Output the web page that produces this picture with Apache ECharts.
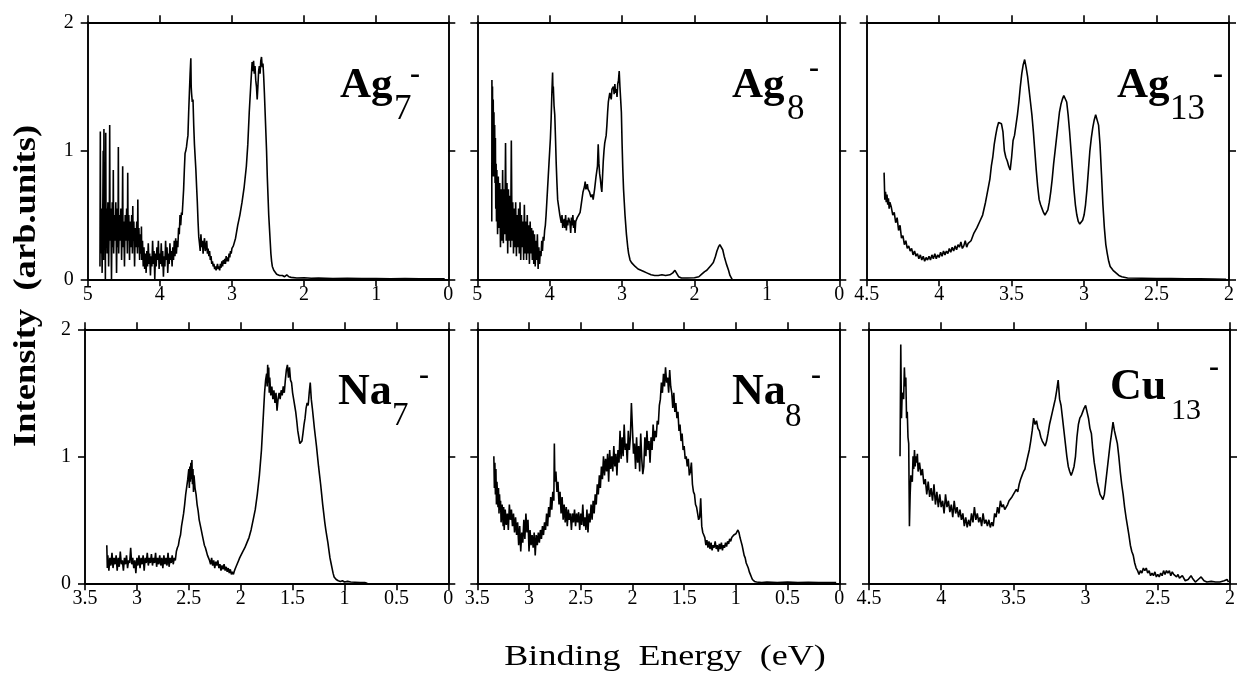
<!DOCTYPE html>
<html>
<head>
<meta charset="utf-8">
<script src="https://cdn.jsdelivr.net/npm/echarts@6/dist/echarts.min.js"></script>
<style>
html,body{margin:0;padding:0;background:#fff;}
#chart{width:1237px;height:673px;}
</style>
</head>
<body>
<div id="chart"></div>
<script>
// ---------------- DATA (binding energy eV, intensity arb. units) ----------------
const ag7 = [
[4.83,0.1],[4.825,1.15],[4.82,0.2],[4.81,0.55],[4.80,0.05],[4.79,0.6],[4.785,1.0],[4.78,0.15],[4.775,1.17],[4.77,0.3],
[4.76,0.5],[4.755,0.0],[4.75,1.14],[4.745,0.25],[4.74,0.55],[4.73,0.2],[4.72,0.6],[4.71,0.1],[4.70,0.5],[4.695,1.2],
[4.69,0.3],[4.68,0.55],[4.67,0.0],[4.66,0.6],[4.65,0.25],[4.645,0.85],[4.64,0.2],[4.63,0.5],[4.62,0.3],[4.61,0.6],
[4.60,0.05],[4.59,0.55],[4.58,0.25],[4.575,1.03],[4.57,0.2],[4.56,0.5],[4.55,0.3],[4.54,0.55],[4.53,0.15],[4.52,0.5],
[4.515,0.88],[4.51,0.25],[4.50,0.45],[4.49,0.1],[4.48,0.5],[4.47,0.3],[4.46,0.55],[4.45,0.2],[4.445,0.83],[4.44,0.3],
[4.43,0.5],[4.42,0.15],[4.41,0.45],[4.40,0.25],[4.39,0.5],[4.38,0.2],[4.375,0.57],[4.37,0.3],[4.36,0.45],[4.35,0.1],
[4.34,0.4],[4.33,0.25],[4.32,0.45],[4.31,0.2],[4.305,0.62],[4.30,0.25],[4.29,0.4],[4.28,0.15],[4.27,0.35],[4.26,0.2],
[4.255,0.41],[4.25,0.15],[4.24,0.3],[4.23,0.1],[4.22,0.25],[4.21,0.08],[4.20,0.2],[4.19,0.05],[4.18,0.22],[4.17,0.1],
[4.16,0.28],[4.15,0.12],[4.14,0.2],[4.13,0.03],[4.12,0.18],[4.11,0.1],[4.10,0.3],[4.09,0.12],[4.08,0.22],[4.07,0.0],
[4.06,0.2],[4.05,0.1],[4.04,0.25],[4.03,0.15],[4.02,0.3],[4.01,0.08],[4.00,0.2],[3.99,0.12],[3.98,0.28],[3.97,0.1],
[3.96,0.22],[3.95,0.02],[3.94,0.18],[3.93,0.1],[3.92,0.3],[3.91,0.15],[3.90,0.25],[3.89,0.05],[3.88,0.2],[3.87,0.12],
[3.86,0.28],[3.85,0.15],[3.84,0.22],[3.83,0.1],[3.82,0.25],[3.81,0.15],[3.80,0.3],[3.79,0.18],[3.78,0.32],[3.77,0.2],
[3.76,0.3],[3.75,0.25],[3.74,0.4],[3.73,0.35],[3.72,0.5],[3.71,0.42],[3.70,0.52],[3.69,0.5],[3.68,0.6],[3.67,0.7],
[3.66,0.85],[3.65,0.98],[3.64,1.0],[3.63,1.03],[3.62,1.08],[3.61,1.12],[3.60,1.3],[3.59,1.45],[3.58,1.6],[3.57,1.72],
[3.565,1.5],[3.56,1.45],[3.55,1.38],[3.54,1.4],[3.53,1.2],[3.52,1.05],[3.51,0.95],[3.50,0.85],[3.49,0.72],[3.48,0.6],
[3.47,0.45],[3.46,0.33],[3.45,0.28],[3.44,0.22],[3.43,0.35],[3.42,0.25],[3.41,0.3],[3.40,0.2],[3.39,0.28],[3.38,0.32],
[3.37,0.22],[3.36,0.25],[3.35,0.3],[3.34,0.2],[3.33,0.24],[3.32,0.18],[3.31,0.22],[3.30,0.15],[3.29,0.18],[3.28,0.12],
[3.27,0.14],[3.26,0.1],[3.25,0.12],[3.24,0.08],[3.23,0.1],[3.22,0.07],[3.21,0.06],[3.20,0.12],[3.19,0.08],[3.18,0.1],
[3.17,0.07],[3.16,0.12],[3.15,0.09],[3.14,0.14],[3.13,0.1],[3.12,0.15],[3.11,0.12],[3.10,0.16],[3.09,0.12],[3.08,0.18],
[3.07,0.14],[3.06,0.17],[3.05,0.14],[3.04,0.2],[3.03,0.17],[3.02,0.22],[3.01,0.2],[3.00,0.24],[2.98,0.26],[2.95,0.32],
[2.92,0.42],[2.89,0.5],[2.86,0.6],[2.83,0.72],[2.80,0.88],[2.78,1.05],[2.76,1.3],[2.74,1.5],[2.72,1.69],[2.71,1.62],
[2.70,1.7],[2.69,1.6],[2.68,1.66],[2.67,1.55],[2.66,1.5],[2.65,1.4],[2.64,1.5],[2.63,1.62],[2.62,1.66],[2.61,1.6],
[2.60,1.7],[2.59,1.73],[2.58,1.65],[2.57,1.68],[2.56,1.58],[2.55,1.45],[2.54,1.3],[2.53,1.15],[2.52,1.0],[2.51,0.8],
[2.50,0.65],[2.49,0.5],[2.48,0.4],[2.47,0.3],[2.46,0.2],[2.45,0.14],[2.44,0.1],[2.42,0.07],[2.40,0.06],[2.38,0.04],
[2.36,0.05],[2.34,0.03],[2.32,0.02],[2.30,0.03],[2.27,0.02],[2.24,0.035],[2.21,0.02],[2.18,0.015],[2.1,0.01],[2.0,0.012],
[1.9,0.008],[1.8,0.01],[1.6,0.006],[1.4,0.008],[1.2,0.005],[1.0,0.006],[0.8,0.004],[0.6,0.005],[0.4,0.003],[0.2,0.004],[0.05,0.003]
];

const ag8 = [
[4.80,0.45],[4.798,1.55],[4.795,0.9],[4.79,1.5],[4.785,0.8],[4.78,1.4],[4.775,0.95],[4.77,1.3],[4.765,0.8],[4.76,1.2],
[4.755,0.75],[4.75,1.1],[4.745,0.55],[4.74,0.9],[4.735,0.45],[4.73,0.85],[4.72,0.35],[4.71,0.8],[4.70,0.4],[4.69,0.75],
[4.68,0.25],[4.67,0.7],[4.66,0.3],[4.65,0.85],[4.64,0.28],[4.63,0.7],[4.62,0.35],[4.61,1.06],[4.60,0.3],[4.59,0.75],
[4.58,0.2],[4.57,0.7],[4.56,0.3],[4.55,0.65],[4.54,0.25],[4.53,1.08],[4.52,0.3],[4.51,0.6],[4.50,0.2],[4.49,0.55],
[4.48,0.25],[4.47,0.6],[4.46,0.18],[4.45,0.5],[4.44,0.25],[4.43,0.55],[4.42,0.2],[4.41,0.6],[4.40,0.15],[4.39,0.5],
[4.38,0.25],[4.37,0.45],[4.36,0.15],[4.35,0.58],[4.34,0.2],[4.33,0.45],[4.32,0.15],[4.31,0.5],[4.30,0.2],[4.29,0.42],
[4.28,0.12],[4.27,0.45],[4.26,0.2],[4.25,0.4],[4.24,0.15],[4.23,0.38],[4.22,0.12],[4.21,0.35],[4.20,0.1],[4.19,0.3],
[4.18,0.15],[4.17,0.35],[4.16,0.08],[4.15,0.25],[4.14,0.12],[4.13,0.22],[4.12,0.18],[4.11,0.3],[4.10,0.22],[4.09,0.33],
[4.08,0.3],[4.07,0.38],[4.06,0.42],[4.05,0.5],[4.04,0.6],[4.03,0.7],[4.02,0.8],[4.01,0.9],[4.00,1.0],[3.99,1.1],
[3.98,1.25],[3.97,1.45],[3.96,1.61],[3.955,1.45],[3.95,1.5],[3.94,1.35],[3.93,1.28],[3.92,1.1],[3.91,0.9],[3.90,0.75],
[3.89,0.62],[3.88,0.58],[3.86,0.5],[3.84,0.44],[3.83,0.5],[3.82,0.4],[3.80,0.47],[3.79,0.4],[3.78,0.5],[3.77,0.38],
[3.76,0.46],[3.75,0.42],[3.74,0.48],[3.72,0.44],[3.71,0.36],[3.70,0.48],[3.69,0.42],[3.68,0.5],[3.67,0.4],[3.66,0.46],
[3.65,0.36],[3.64,0.45],[3.62,0.48],[3.60,0.5],[3.58,0.52],[3.56,0.6],[3.54,0.68],[3.52,0.72],[3.51,0.76],[3.50,0.7],
[3.48,0.74],[3.47,0.7],[3.45,0.68],[3.43,0.64],[3.41,0.66],[3.40,0.62],[3.38,0.7],[3.36,0.8],[3.34,0.88],[3.33,1.05],
[3.32,0.9],[3.31,0.82],[3.30,0.78],[3.29,0.72],[3.28,0.68],[3.27,0.8],[3.26,0.92],[3.25,1.0],[3.24,1.06],[3.22,1.12],
[3.21,1.2],[3.20,1.3],[3.19,1.38],[3.17,1.45],[3.15,1.4],[3.14,1.48],[3.12,1.5],[3.11,1.44],[3.10,1.52],[3.09,1.45],
[3.08,1.48],[3.07,1.42],[3.06,1.52],[3.05,1.55],[3.04,1.62],[3.03,1.5],[3.02,1.4],[3.01,1.3],[3.00,1.05],[2.99,0.85],
[2.98,0.7],[2.97,0.6],[2.96,0.5],[2.94,0.35],[2.92,0.24],[2.91,0.2],[2.89,0.15],[2.87,0.13],[2.85,0.12],[2.82,0.1],
[2.78,0.08],[2.74,0.07],[2.70,0.06],[2.66,0.05],[2.60,0.035],[2.55,0.03],[2.50,0.03],[2.45,0.035],[2.40,0.03],[2.34,0.035],
[2.30,0.05],[2.27,0.07],[2.25,0.05],[2.22,0.02],[2.18,0.01],[2.10,0.01],[2.00,0.012],[1.94,0.02],[1.90,0.04],[1.86,0.06],
[1.83,0.07],[1.80,0.09],[1.77,0.11],[1.74,0.13],[1.71,0.18],[1.69,0.22],[1.67,0.25],[1.65,0.27],[1.63,0.26],[1.61,0.23],
[1.59,0.18],[1.56,0.12],[1.53,0.07],[1.51,0.03],[1.48,0.0]
];

const ag13 = [
[4.38,0.83],[4.375,0.62],[4.37,0.68],[4.365,0.6],[4.36,0.66],[4.355,0.58],[4.35,0.63],[4.345,0.55],[4.34,0.6],[4.33,0.56],
[4.32,0.5],[4.31,0.52],[4.30,0.44],[4.29,0.48],[4.28,0.38],[4.27,0.42],[4.26,0.32],[4.25,0.34],[4.24,0.27],[4.23,0.3],
[4.22,0.24],[4.21,0.26],[4.20,0.22],[4.19,0.24],[4.18,0.19],[4.17,0.22],[4.16,0.18],[4.15,0.2],[4.14,0.16],[4.13,0.19],
[4.12,0.15],[4.11,0.18],[4.10,0.14],[4.09,0.17],[4.08,0.15],[4.07,0.18],[4.06,0.15],[4.05,0.19],[4.04,0.16],[4.03,0.2],
[4.02,0.16],[4.01,0.19],[4.00,0.17],[3.99,0.21],[3.98,0.18],[3.97,0.22],[3.96,0.19],[3.95,0.22],[3.94,0.2],[3.93,0.24],
[3.92,0.21],[3.91,0.25],[3.90,0.22],[3.89,0.26],[3.88,0.23],[3.87,0.27],[3.86,0.25],[3.85,0.29],[3.84,0.24],[3.83,0.26],
[3.82,0.3],[3.81,0.25],[3.80,0.28],[3.78,0.3],[3.76,0.36],[3.74,0.4],[3.72,0.45],[3.70,0.5],[3.68,0.6],[3.66,0.72],
[3.65,0.78],[3.64,0.88],[3.63,0.95],[3.62,1.05],[3.61,1.12],[3.60,1.18],[3.59,1.22],[3.58,1.22],[3.57,1.21],[3.56,1.15],
[3.55,1.0],[3.54,0.95],[3.53,0.92],[3.52,0.88],[3.51,0.85],[3.50,0.95],[3.49,1.08],[3.48,1.12],[3.47,1.2],[3.46,1.28],
[3.45,1.38],[3.44,1.5],[3.43,1.6],[3.42,1.67],[3.41,1.71],[3.40,1.65],[3.39,1.58],[3.38,1.48],[3.37,1.38],[3.36,1.28],
[3.35,1.15],[3.34,1.0],[3.33,0.85],[3.32,0.72],[3.31,0.62],[3.30,0.58],[3.29,0.55],[3.28,0.52],[3.27,0.5],[3.26,0.5],
[3.25,0.54],[3.24,0.6],[3.23,0.68],[3.22,0.78],[3.21,0.9],[3.20,1.0],[3.19,1.1],[3.18,1.2],[3.17,1.3],[3.16,1.36],
[3.15,1.4],[3.14,1.43],[3.13,1.43],[3.12,1.38],[3.11,1.28],[3.10,1.15],[3.09,1.0],[3.08,0.85],[3.07,0.7],[3.06,0.58],
[3.05,0.5],[3.04,0.45],[3.03,0.43],[3.02,0.44],[3.01,0.46],[3.00,0.5],[2.99,0.58],[2.98,0.7],[2.97,0.85],[2.96,1.0],
[2.95,1.1],[2.94,1.18],[2.93,1.24],[2.92,1.28],[2.91,1.28],[2.90,1.2],[2.89,1.05],[2.88,0.82],[2.87,0.58],[2.86,0.4],
[2.85,0.27],[2.84,0.2],[2.83,0.14],[2.82,0.1],[2.80,0.07],[2.78,0.05],[2.76,0.03],[2.74,0.02],[2.70,0.01],[2.6,0.008],
[2.5,0.006],[2.4,0.005],[2.3,0.004],[2.2,0.003],[2.1,0.002],[2.02,0.0]
];

const na7 = [
[3.29,0.3],[3.285,0.12],[3.28,0.22],[3.27,0.1],[3.26,0.2],[3.25,0.14],[3.24,0.24],[3.23,0.12],[3.22,0.2],[3.21,0.15],
[3.20,0.22],[3.19,0.1],[3.18,0.2],[3.17,0.13],[3.16,0.25],[3.15,0.15],[3.14,0.18],[3.13,0.1],[3.12,0.2],[3.11,0.15],
[3.10,0.22],[3.09,0.12],[3.08,0.18],[3.07,0.16],[3.06,0.28],[3.05,0.15],[3.04,0.2],[3.03,0.12],[3.02,0.18],[3.01,0.08],
[3.00,0.2],[2.99,0.14],[2.98,0.22],[2.97,0.12],[2.96,0.2],[2.95,0.15],[2.94,0.22],[2.93,0.1],[2.92,0.2],[2.91,0.16],
[2.90,0.24],[2.89,0.14],[2.88,0.2],[2.87,0.16],[2.86,0.23],[2.85,0.14],[2.84,0.2],[2.83,0.16],[2.82,0.24],[2.81,0.13],
[2.80,0.2],[2.79,0.15],[2.78,0.22],[2.77,0.14],[2.76,0.2],[2.75,0.12],[2.74,0.22],[2.73,0.15],[2.72,0.2],[2.71,0.14],
[2.70,0.24],[2.69,0.13],[2.68,0.2],[2.67,0.16],[2.66,0.22],[2.65,0.15],[2.64,0.2],[2.63,0.18],[2.62,0.25],[2.61,0.28],
[2.60,0.3],[2.59,0.35],[2.58,0.38],[2.57,0.45],[2.56,0.5],[2.55,0.55],[2.54,0.62],[2.53,0.7],[2.52,0.76],[2.51,0.82],
[2.50,0.9],[2.495,0.75],[2.49,0.92],[2.485,0.8],[2.48,0.95],[2.475,0.82],[2.47,0.97],[2.465,0.78],[2.46,0.9],[2.455,0.72],
[2.45,0.85],[2.44,0.75],[2.43,0.7],[2.42,0.62],[2.41,0.57],[2.40,0.5],[2.39,0.46],[2.38,0.42],[2.37,0.38],[2.36,0.34],
[2.35,0.3],[2.34,0.28],[2.33,0.25],[2.32,0.22],[2.31,0.2],[2.30,0.18],[2.29,0.15],[2.28,0.2],[2.27,0.14],[2.26,0.18],
[2.25,0.12],[2.24,0.17],[2.23,0.14],[2.22,0.18],[2.21,0.12],[2.20,0.15],[2.19,0.1],[2.18,0.14],[2.17,0.11],[2.16,0.15],
[2.15,0.1],[2.14,0.13],[2.13,0.09],[2.12,0.12],[2.11,0.08],[2.10,0.11],[2.09,0.07],[2.08,0.09],[2.07,0.07],[2.06,0.1],
[2.05,0.12],[2.04,0.14],[2.03,0.16],[2.02,0.18],[2.01,0.2],[2.00,0.21],[1.98,0.25],[1.96,0.28],[1.94,0.32],[1.92,0.36],
[1.90,0.42],[1.88,0.5],[1.86,0.58],[1.84,0.7],[1.82,0.85],[1.80,1.05],[1.79,1.2],[1.78,1.35],[1.77,1.5],[1.76,1.6],
[1.75,1.65],[1.745,1.55],[1.74,1.72],[1.735,1.58],[1.73,1.7],[1.725,1.5],[1.72,1.62],[1.71,1.48],[1.70,1.55],[1.69,1.45],
[1.68,1.52],[1.67,1.42],[1.66,1.5],[1.65,1.36],[1.64,1.45],[1.63,1.5],[1.62,1.45],[1.61,1.52],[1.60,1.48],[1.59,1.55],
[1.58,1.5],[1.57,1.6],[1.56,1.68],[1.55,1.72],[1.54,1.62],[1.53,1.7],[1.52,1.6],[1.51,1.58],[1.50,1.5],[1.49,1.45],
[1.48,1.4],[1.47,1.35],[1.46,1.28],[1.45,1.2],[1.44,1.15],[1.43,1.1],[1.42,1.1],[1.41,1.12],[1.40,1.18],[1.39,1.25],
[1.38,1.3],[1.37,1.38],[1.36,1.42],[1.35,1.4],[1.34,1.5],[1.33,1.58],[1.32,1.45],[1.31,1.38],[1.30,1.3],[1.29,1.22],
[1.28,1.15],[1.27,1.08],[1.26,1.0],[1.25,0.92],[1.24,0.85],[1.23,0.78],[1.22,0.7],[1.21,0.62],[1.20,0.55],[1.19,0.48],
[1.18,0.42],[1.17,0.37],[1.16,0.32],[1.15,0.26],[1.14,0.2],[1.13,0.16],[1.12,0.12],[1.11,0.08],[1.10,0.05],[1.08,0.03],
[1.06,0.02],[1.04,0.015],[1.02,0.02],[1.0,0.01],[0.97,0.015],[0.94,0.01],[0.9,0.008],[0.85,0.005],[0.8,0.005],[0.78,0.0]
];

const na8 = [
[3.34,1.0],[3.335,0.75],[3.33,0.95],[3.325,0.7],[3.32,0.9],[3.315,0.62],[3.31,0.8],[3.30,0.6],[3.295,0.75],[3.29,0.55],
[3.285,0.7],[3.28,0.58],[3.275,0.65],[3.27,0.48],[3.26,0.62],[3.25,0.45],[3.245,0.6],[3.24,0.42],[3.23,0.58],[3.22,0.46],
[3.21,0.55],[3.20,0.42],[3.19,0.62],[3.18,0.5],[3.17,0.58],[3.16,0.45],[3.15,0.55],[3.14,0.4],[3.13,0.52],[3.12,0.38],
[3.11,0.48],[3.10,0.3],[3.09,0.45],[3.08,0.25],[3.07,0.4],[3.06,0.32],[3.05,0.5],[3.04,0.35],[3.03,0.55],[3.02,0.4],
[3.01,0.5],[3.00,0.25],[2.99,0.42],[2.98,0.3],[2.97,0.38],[2.96,0.28],[2.95,0.4],[2.94,0.22],[2.93,0.38],[2.92,0.3],
[2.91,0.4],[2.90,0.32],[2.89,0.42],[2.88,0.35],[2.87,0.45],[2.86,0.38],[2.85,0.48],[2.84,0.42],[2.83,0.55],[2.82,0.45],
[2.81,0.6],[2.80,0.52],[2.79,0.68],[2.78,0.58],[2.77,0.72],[2.76,0.65],[2.755,1.1],[2.75,0.8],[2.74,0.88],[2.73,0.72],
[2.72,0.8],[2.71,0.62],[2.70,0.72],[2.69,0.55],[2.68,0.68],[2.67,0.5],[2.66,0.62],[2.65,0.48],[2.64,0.6],[2.63,0.45],
[2.62,0.58],[2.61,0.5],[2.60,0.55],[2.59,0.42],[2.58,0.55],[2.57,0.48],[2.56,0.58],[2.55,0.45],[2.54,0.55],[2.53,0.48],
[2.52,0.56],[2.51,0.42],[2.50,0.55],[2.49,0.46],[2.48,0.62],[2.47,0.45],[2.46,0.52],[2.45,0.42],[2.44,0.58],[2.43,0.4],
[2.42,0.55],[2.41,0.48],[2.40,0.62],[2.39,0.5],[2.38,0.65],[2.37,0.55],[2.36,0.7],[2.35,0.62],[2.34,0.78],[2.33,0.7],
[2.32,0.85],[2.31,0.75],[2.30,0.92],[2.29,0.82],[2.28,1.0],[2.27,0.85],[2.26,0.98],[2.25,0.88],[2.24,1.02],[2.23,0.8],
[2.22,1.05],[2.21,0.9],[2.20,1.0],[2.19,0.88],[2.18,1.08],[2.17,0.92],[2.16,1.02],[2.15,0.85],[2.14,1.05],[2.13,0.95],
[2.12,1.2],[2.11,0.98],[2.10,1.15],[2.09,1.0],[2.08,1.25],[2.07,1.05],[2.06,1.1],[2.05,0.95],[2.04,1.2],[2.03,1.05],
[2.02,1.15],[2.01,1.42],[2.00,1.22],[1.99,1.02],[1.98,1.1],[1.97,0.9],[1.96,1.15],[1.95,0.95],[1.94,1.08],[1.93,0.88],
[1.92,1.18],[1.91,0.98],[1.90,0.86],[1.89,0.92],[1.88,1.15],[1.87,1.0],[1.86,1.2],[1.85,1.05],[1.84,1.12],[1.83,0.95],
[1.82,1.15],[1.81,1.05],[1.80,1.25],[1.79,1.12],[1.78,1.2],[1.77,1.15],[1.76,1.28],[1.75,1.25],[1.74,1.4],[1.73,1.45],
[1.72,1.58],[1.71,1.5],[1.70,1.65],[1.69,1.55],[1.68,1.7],[1.67,1.58],[1.66,1.62],[1.65,1.5],[1.64,1.68],[1.63,1.55],
[1.62,1.5],[1.61,1.38],[1.60,1.5],[1.59,1.35],[1.58,1.42],[1.57,1.3],[1.56,1.35],[1.55,1.2],[1.54,1.25],[1.53,1.12],
[1.52,1.18],[1.51,1.05],[1.50,1.08],[1.49,0.98],[1.48,1.0],[1.47,0.92],[1.46,0.98],[1.45,0.85],[1.44,0.88],[1.43,0.95],
[1.42,0.78],[1.41,0.72],[1.40,0.7],[1.39,0.62],[1.38,0.6],[1.37,0.55],[1.36,0.5],[1.35,0.52],[1.34,0.67],[1.33,0.45],
[1.32,0.4],[1.31,0.38],[1.30,0.36],[1.29,0.3],[1.28,0.34],[1.27,0.28],[1.26,0.33],[1.25,0.27],[1.24,0.32],[1.23,0.26],
[1.22,0.3],[1.21,0.28],[1.20,0.33],[1.19,0.27],[1.18,0.3],[1.17,0.25],[1.16,0.31],[1.15,0.27],[1.14,0.32],[1.13,0.26],
[1.12,0.3],[1.11,0.28],[1.10,0.32],[1.09,0.29],[1.08,0.33],[1.07,0.31],[1.06,0.35],[1.05,0.33],[1.04,0.36],[1.03,0.35],
[1.02,0.38],[1.01,0.37],[1.00,0.39],[0.99,0.4],[0.98,0.42],[0.97,0.4],[0.96,0.36],[0.95,0.33],[0.94,0.3],[0.93,0.26],
[0.92,0.22],[0.91,0.2],[0.90,0.16],[0.89,0.14],[0.88,0.12],[0.87,0.09],[0.86,0.07],[0.85,0.05],[0.84,0.03],[0.83,0.02],
[0.82,0.015],[0.80,0.01],[0.75,0.005],[0.70,0.01],[0.6,0.005],[0.5,0.01],[0.4,0.005],[0.3,0.008],[0.2,0.005],[0.1,0.006],[0.03,0.005]
];

const cu13 = [
[4.285,1.0],[4.28,1.88],[4.275,1.3],[4.27,1.5],[4.26,1.45],[4.255,1.7],[4.25,1.55],[4.245,1.62],[4.24,1.3],[4.235,1.35],
[4.23,1.15],[4.225,1.1],[4.22,0.45],[4.215,0.7],[4.21,0.85],[4.20,0.8],[4.195,1.0],[4.19,0.9],[4.185,1.05],[4.18,0.92],
[4.175,1.0],[4.17,0.95],[4.165,1.02],[4.16,0.88],[4.15,0.95],[4.14,0.85],[4.13,0.9],[4.12,0.78],[4.11,0.82],[4.10,0.7],
[4.09,0.8],[4.08,0.68],[4.07,0.75],[4.06,0.65],[4.05,0.78],[4.04,0.62],[4.03,0.72],[4.02,0.6],[4.01,0.7],[4.00,0.6],
[3.99,0.65],[3.98,0.55],[3.97,0.7],[3.96,0.6],[3.95,0.65],[3.94,0.56],[3.93,0.62],[3.92,0.52],[3.91,0.65],[3.90,0.55],
[3.89,0.6],[3.88,0.52],[3.87,0.58],[3.86,0.5],[3.85,0.55],[3.84,0.45],[3.83,0.52],[3.82,0.44],[3.81,0.5],[3.80,0.45],
[3.79,0.55],[3.78,0.48],[3.77,0.6],[3.76,0.5],[3.75,0.55],[3.74,0.48],[3.73,0.52],[3.72,0.45],[3.71,0.55],[3.70,0.47],
[3.69,0.5],[3.68,0.45],[3.67,0.5],[3.66,0.44],[3.65,0.48],[3.64,0.45],[3.63,0.55],[3.62,0.52],[3.61,0.6],[3.60,0.55],
[3.59,0.65],[3.58,0.6],[3.57,0.62],[3.56,0.58],[3.55,0.6],[3.54,0.62],[3.53,0.65],[3.52,0.64],[3.51,0.68],[3.50,0.7],
[3.49,0.72],[3.48,0.74],[3.47,0.72],[3.46,0.78],[3.45,0.82],[3.44,0.85],[3.43,0.88],[3.42,0.9],[3.41,0.95],[3.40,1.0],
[3.39,1.05],[3.38,1.12],[3.37,1.2],[3.36,1.3],[3.35,1.25],[3.34,1.28],[3.33,1.22],[3.32,1.2],[3.31,1.15],[3.30,1.12],
[3.29,1.1],[3.28,1.08],[3.27,1.12],[3.26,1.18],[3.25,1.25],[3.24,1.3],[3.23,1.35],[3.22,1.4],[3.21,1.45],[3.20,1.52],
[3.19,1.6],[3.18,1.45],[3.17,1.4],[3.16,1.3],[3.15,1.2],[3.14,1.1],[3.13,1.0],[3.12,0.92],[3.11,0.88],[3.10,0.85],
[3.09,0.88],[3.08,0.92],[3.07,1.0],[3.06,1.15],[3.05,1.25],[3.04,1.3],[3.03,1.32],[3.02,1.35],[3.01,1.38],[3.00,1.4],
[2.99,1.35],[2.98,1.3],[2.97,1.22],[2.96,1.18],[2.95,1.05],[2.94,0.95],[2.93,0.88],[2.92,0.8],[2.91,0.75],[2.90,0.7],
[2.89,0.68],[2.88,0.66],[2.87,0.7],[2.86,0.8],[2.85,0.9],[2.84,1.0],[2.83,1.1],[2.82,1.18],[2.81,1.27],[2.80,1.2],
[2.79,1.15],[2.78,1.1],[2.77,1.0],[2.76,0.88],[2.75,0.78],[2.74,0.7],[2.73,0.6],[2.72,0.52],[2.71,0.45],[2.70,0.38],
[2.69,0.3],[2.68,0.25],[2.67,0.22],[2.66,0.16],[2.65,0.12],[2.64,0.1],[2.63,0.07],[2.62,0.1],[2.61,0.08],[2.60,0.12],
[2.59,0.1],[2.58,0.12],[2.57,0.08],[2.56,0.1],[2.55,0.06],[2.54,0.08],[2.53,0.06],[2.52,0.09],[2.51,0.05],[2.50,0.07],
[2.49,0.05],[2.48,0.08],[2.47,0.06],[2.46,0.1],[2.45,0.07],[2.44,0.1],[2.43,0.08],[2.42,0.1],[2.41,0.06],[2.40,0.09],
[2.39,0.07],[2.38,0.08],[2.37,0.05],[2.36,0.07],[2.35,0.04],[2.33,0.06],[2.31,0.02],[2.29,0.03],[2.27,0.06],[2.26,0.04],
[2.24,0.01],[2.22,0.03],[2.20,0.05],[2.18,0.02],[2.16,0.01],[2.13,0.015],[2.10,0.01],[2.07,0.01],[2.04,0.02],[2.02,0.03],[2.01,0.01]
];

// Panel names (element, subscript) and axis ranges
const panelNames = [['Ag','7'],['Ag','8'],['Ag','13'],['Na','7'],['Na','8'],['Cu','13']];
const panelSeries = [ag7, ag8, ag13, na7, na8, cu13];
const xRanges = [[0,5,1],[0,5,1],[2,4.5,0.5],[0,3.5,0.5],[0,3.5,0.5],[2,4.5,0.5]];
const yRange = [0,2,1];
const yTitle = 'Intensity  (arb.units)';
const xTitle = 'Binding  Energy  (eV)';

// ---------------- LAYOUT ----------------
const FONT = "'Liberation Serif','Times New Roman',serif";
const gridBoxes = [
  {left:87.7, top:22.3, width:360.6, height:257},
  {left:477.3, top:22.3, width:362, height:257},
  {left:866.7, top:22.3, width:362.3, height:257},
  {left:85, top:329.3, width:363.3, height:254},
  {left:477.3, top:329.3, width:362, height:254},
  {left:869, top:329.3, width:361, height:254}
];
const labelPos = [
  {x:340, base:100, size:43, sx:394, sy:110, ssize:35, mx:415, my:75},
  {x:732, base:100, size:43, sx:787, sy:110, ssize:35, mx:814, my:69},
  {x:1117, base:100, size:43, sx:1170, sy:110, ssize:35, mx:1218, my:75},
  {x:338, base:407, size:44, sx:392, sy:416, ssize:33, mx:424, my:376},
  {x:732, base:407, size:44, sx:785, sy:417, ssize:33, mx:816, my:376},
  {x:1110, base:402, size:44, sx:1171, sy:411, ssize:30, mx:1214, my:368}
];

const axisLine = {show:true, onZero:false, lineStyle:{color:'#000', width:1.9}};
const axisTick = {show:true, inside:false, length:7, lineStyle:{color:'#000', width:1.6}};
const tickFont = {color:'#000', fontSize:20, fontFamily:FONT};

const grids = [], xAxes = [], yAxes = [], series = [], graphics = [];
gridBoxes.forEach((g, i) => {
  grids.push(Object.assign({containLabel:false, outerBoundsMode:'none'}, g));
  const [xmin, xmax, xstep] = xRanges[i];
  const base = {type:'value', gridIndex:i, min:xmin, max:xmax, interval:xstep, inverse:true,
    axisLine, axisTick, splitLine:{show:false}};
  xAxes.push(Object.assign({}, base, {position:'bottom',
    axisLabel:Object.assign({show:true, margin:5}, tickFont)}));
  xAxes.push(Object.assign({}, base, {position:'top', axisLabel:{show:false}}));
  const ybase = {type:'value', gridIndex:i, min:yRange[0], max:yRange[1], interval:yRange[2],
    axisLine, axisTick, splitLine:{show:false}};
  yAxes.push(Object.assign({}, ybase, {position:'left',
    axisLabel:Object.assign({show: i % 3 === 0, margin:14}, tickFont)}));
  yAxes.push(Object.assign({}, ybase, {position:'right', axisLabel:{show:false}}));
  series.push({type:'line', xAxisIndex:2*i, yAxisIndex:2*i, data:panelSeries[i],
    showSymbol:false, symbol:'none', lineStyle:{color:'#000', width:1.6}, silent:true, animation:false});
  const p = labelPos[i];
  graphics.push({type:'text', x:p.x, y:p.base - 0.3375*p.size, style:{text:panelNames[i][0],
    fontFamily:FONT, fontWeight:'bold', fontSize:p.size, fill:'#000', textAlign:'left', textVerticalAlign:'middle'}});
  graphics.push({type:'text', x:p.sx, y:p.sy, style:{text:panelNames[i][1],
    fontFamily:FONT, fontWeight:'normal', fontSize:p.ssize, fill:'#000', textAlign:'left', textVerticalAlign:'middle'}});
  graphics.push({type:'text', x:p.mx, y:p.my, style:{text:'-',
    fontFamily:FONT, fontWeight:'bold', fontSize:30, fill:'#000', textAlign:'center', textVerticalAlign:'middle'}});
});
graphics.push({type:'text', x:27, y:286, rotation:Math.PI/2, scaleX:1.18, style:{text:yTitle,
  fontFamily:FONT, fontWeight:'bold', fontSize:31, fill:'#000', textAlign:'center', textVerticalAlign:'middle'}});
graphics.push({type:'text', x:665, y:657, scaleX:1.2, style:{text:xTitle,
  fontFamily:FONT, fontWeight:'normal', fontSize:30, fill:'#000', textAlign:'center', textVerticalAlign:'middle'}});

const chart = echarts.init(document.getElementById('chart'), null, {renderer:'canvas'});
chart.setOption({
  backgroundColor:'#fff',
  animation:false,
  grid:grids, xAxis:xAxes, yAxis:yAxes, series:series, graphic:graphics
});
</script>
</body>
</html>
